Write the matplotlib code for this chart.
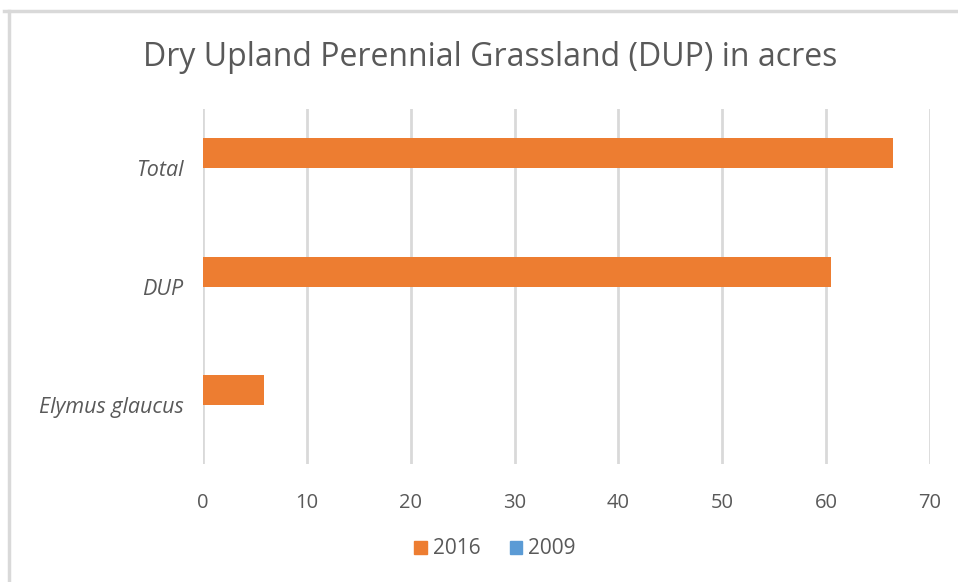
import matplotlib.pyplot as plt
from matplotlib.lines import Line2D
from matplotlib.patches import Patch
import numpy as np

# Data (acres)
categories = ['Elymus glaucus', 'DUP', 'Total']
values_2016 = [5.9, 60.5, 66.4]
values_2009 = [0, 0, 0]
x_ticks = [0, 10, 20, 30, 40, 50, 60, 70]

ORANGE = '#ED7D31'
BLUE = '#5B9BD5'
GRAY = '#595959'
GRID = '#D9D9D9'

plt.rcParams['font.family'] = ['Open Sans', 'DejaVu Sans']

W, H = 958, 582
fig = plt.figure(figsize=(W / 100, H / 100), dpi=100)
ax = fig.add_axes([203 / W, 1 - 464 / H, 727 / W, 355 / H])

y = np.arange(len(categories))
h = 0.253
ax.barh(y + h / 2, values_2016, height=h, color=ORANGE, zorder=3)
ax.barh(y - h / 2, values_2009, height=h, color=BLUE, zorder=3)

ax.set_xlim(0, 70)
ax.set_ylim(-0.5, len(categories) - 0.5)
ax.set_xticks(x_ticks)
ax.set_xticklabels([str(t) for t in x_ticks], fontsize=14.5, color=GRAY)
ax.set_yticks(y)
ax.set_yticklabels(categories, fontsize=15.5, color=GRAY, style='italic')
ax.tick_params(axis='both', length=0)
ax.tick_params(axis='x', pad=21)
ax.tick_params(axis='y', pad=14)
ax.grid(axis='x', color=GRID, linewidth=2, zorder=0)
for s in ax.spines.values():
    s.set_visible(False)

fig.text(490 / W, 1 - 58 / H, 'Dry Upland Perennial Grassland (DUP) in acres',
         ha='center', va='center', fontsize=23, color=GRAY)

handles = [Patch(color=ORANGE, label='2016'), Patch(color=BLUE, label='2009')]
fig.legend(handles=handles, loc='center', bbox_to_anchor=(495 / W, 1 - 549 / H),
           ncol=2, frameon=False, fontsize=15, labelcolor=GRAY,
           handlelength=0.6, handleheight=0.6, handletextpad=0.3, columnspacing=1.4)

# outer chart border (partly cropped in the reference)
fig.add_artist(Line2D([4 / W, 1], [1 - 11 / H, 1 - 11 / H], color=GRID, linewidth=2.5))
fig.add_artist(Line2D([9 / W, 9 / W], [0, 1 - 11 / H], color=GRID, linewidth=2.5))

fig.savefig('out.png', dpi=100, facecolor='white')
